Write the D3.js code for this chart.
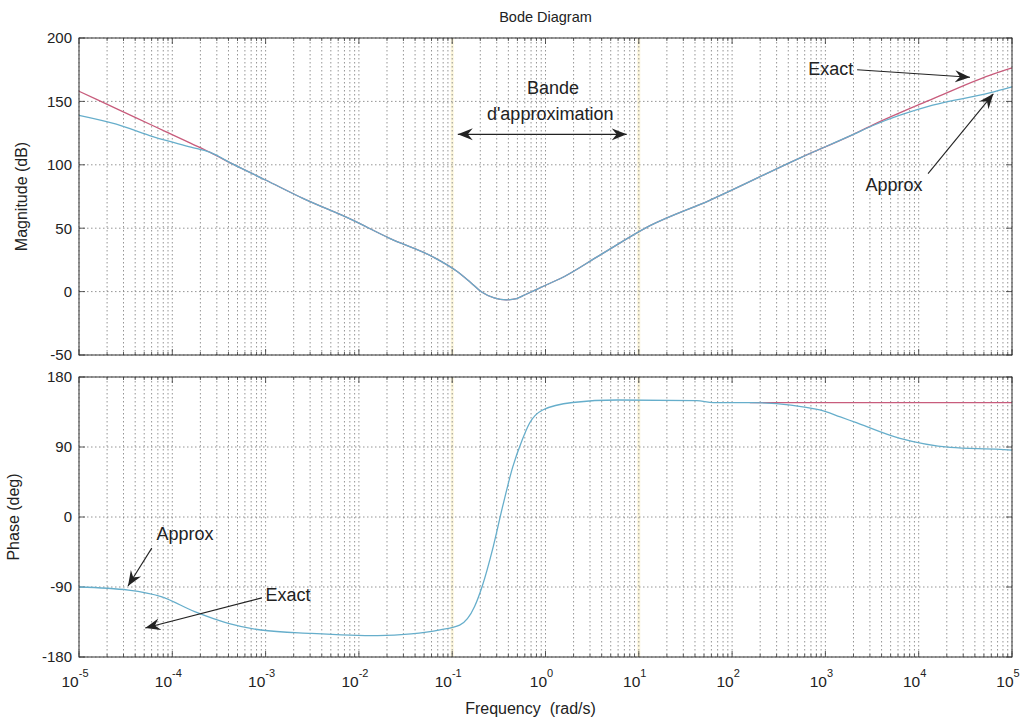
<!DOCTYPE html>
<html>
<head>
<meta charset="utf-8">
<script src="https://cdn.jsdelivr.net/npm/d3@7"></script>
<style>
  body { margin: 0; background: #fff; }
  text { font-family: "Liberation Sans", Arial, sans-serif; fill: #222; }
  .grid line { stroke: #7a7a7a; stroke-width: 0.8; stroke-dasharray: 1.5,2.5; }
  .frame { fill: none; stroke: #333; stroke-width: 1; }
  .tick { stroke: #333; stroke-width: 0.8; }
</style>
</head>
<body>
<svg id="chart" width="1023" height="719"></svg>
<script>
// Frequencies are stored as log10(rad/s).
var magExp      = [-5, -4.6, -4.2, -3.8, -3.6, -3.35, -3.0, -2.6, -2.1, -1.67, -1.21, -0.95, -0.8, -0.68, -0.55, -0.42, -0.31, -0.22, 0, 0.16, 0.58, 1.12, 1.76, 2.73, 3.3, 3.51, 4.15, 4.76, 5];
var approxMagDb = [139, 132, 122, 114, 110, 100.5, 88, 73.5, 57.5, 42, 27.5, 16, 7, -0.5, -5, -6.5, -5.5, -2.5, 5, 10.3, 28.6, 52, 72, 105.5, 124, 131, 147, 156.7, 161.5];
var exactMagDb  = [158, 144.3, 130.6, 116.9, 110, 100.5, 88, 73.5, 57.5, 42, 27.5, 16, 7, -0.5, -5, -6.5, -5.5, -2.5, 5, 10.3, 28.6, 52, 72, 105.5, 124, 131.5, 152, 170.6, 176.4];

var phaseExp       = [-5, -4.47, -4.12, -3.76, -3.4, -3.05, -2.51, -1.8, -1.44, -1.13, -0.92, -0.76, -0.68, -0.56, -0.46, -0.35, -0.25, -0.17, -0.03, 0.29, 0.77, 1.62, 1.8, 2.19, 2.94, 3.16, 3.3, 3.8, 4.34, 4.87, 5];
var approxPhaseDeg = [-90, -94, -102.4, -121.7, -136.7, -145.3, -149.6, -152.6, -150.4, -145, -139, -115, -89.6, -38, 13.3, 64.7, 99, 120.8, 137.6, 147.2, 150.4, 149.6, 147, 147, 137.6, 128.6, 122.6, 101, 89.5, 87, 86];
var exactPhaseExp  = [2.19, 3, 4, 5];
var exactPhaseDeg  = [147, 147, 147, 147];

var magTicks   = [-50, 0, 50, 100, 150, 200];
var phaseTicks = [-180, -90, 0, 90, 180];
var decades    = [-5, -4, -3, -2, -1, 0, 1, 2, 3, 4, 5];
var bandEdges  = [-1, 1];

// Annotations, positioned in data units of their panel.
var magNotes = [
  { text: "Exact", e: 3.3, v: 171, anchor: "end" },
  { text: "Approx", e: 3.735, v: 79, anchor: "middle" },
  { text: "Bande", e: 0.08, v: 156, anchor: "middle" },
  { text: "d'approximation", e: 0.05, v: 135.5, anchor: "middle" }
];
var magArrows = [
  { e1: 3.34, v1: 175, e2: 4.55, v2: 169, both: false },
  { e1: 4.1, v1: 93, e2: 4.8, v2: 156, both: false },
  { e1: -0.94, v1: 124, e2: 0.87, v2: 124, both: true }
];
var phaseNotes = [
  { text: "Approx", e: -3.864, v: -29.6, anchor: "middle" },
  { text: "Exact", e: -3.0, v: -108, anchor: "start" }
];
var phaseArrows = [
  { e1: -4.22, v1: -40, e2: -4.475, v2: -88.7, both: false },
  { e1: -3.04, v1: -104, e2: -4.29, v2: -142.7, both: false }
];

var width = 1023, height = 719;
var left = 79, right = 1012;
var svg = d3.select("#chart");

var x = d3.scaleLog().domain([1e-5, 1e5]).range([left, right]);
var yMag = d3.scaleLinear().domain([-50, 200]).range([355, 38]);
var yPh = d3.scaleLinear().domain([-180, 180]).range([657, 377]);

var defs = svg.append("defs");
defs.append("marker")
  .attr("id", "head")
  .attr("viewBox", "-15 -7 16 14")
  .attr("refX", 0)
  .attr("refY", 0)
  .attr("markerWidth", 16)
  .attr("markerHeight", 14)
  .attr("markerUnits", "userSpaceOnUse")
  .attr("orient", "auto-start-reverse")
  .append("path")
    .attr("d", "M0,0L-15,-6L-10,0L-15,6Z")
    .attr("fill", "#222");

// All grid frequencies: 1..9 times each decade.
var gridFreqs = [];
decades.slice(0, -1).forEach(function(e) {
  d3.range(1, 10).forEach(function(k) { gridFreqs.push(k * Math.pow(10, e)); });
});
gridFreqs.push(1e5);

function drawPanel(y, ticks, series, notes, arrows) {
  var top = y.range()[1], bottom = y.range()[0];
  var g = svg.append("g");

  // Pale yellow lines that mark the approximation band.
  g.selectAll(".band").data(bandEdges).enter().append("line")
    .attr("x1", function(d) { return x(Math.pow(10, d)); })
    .attr("x2", function(d) { return x(Math.pow(10, d)); })
    .attr("y1", top).attr("y2", bottom)
    .attr("stroke", "#fcf6dc").attr("stroke-width", 3);

  var grid = g.append("g").attr("class", "grid");
  grid.selectAll(".v").data(gridFreqs).enter().append("line")
    .attr("x1", function(d) { return x(d); })
    .attr("x2", function(d) { return x(d); })
    .attr("y1", top).attr("y2", bottom);
  grid.selectAll(".h").data(ticks).enter().append("line")
    .attr("x1", left).attr("x2", right)
    .attr("y1", function(d) { return y(d); })
    .attr("y2", function(d) { return y(d); });

  // Inward ticks on all four sides.
  gridFreqs.forEach(function(f) {
    var major = Math.abs(Math.log10(f) - Math.round(Math.log10(f))) < 1e-9;
    var len = major ? 6 : 3;
    g.append("line").attr("class", "tick")
      .attr("x1", x(f)).attr("x2", x(f)).attr("y1", bottom).attr("y2", bottom - len);
    g.append("line").attr("class", "tick")
      .attr("x1", x(f)).attr("x2", x(f)).attr("y1", top).attr("y2", top + len);
  });
  ticks.forEach(function(t) {
    g.append("line").attr("class", "tick")
      .attr("x1", left).attr("x2", left + 6).attr("y1", y(t)).attr("y2", y(t));
    g.append("line").attr("class", "tick")
      .attr("x1", right).attr("x2", right - 6).attr("y1", y(t)).attr("y2", y(t));
  });

  g.selectAll(".ylab").data(ticks).enter().append("text")
    .attr("x", left - 7)
    .attr("y", function(d) { return y(d); })
    .attr("dy", "0.36em")
    .attr("text-anchor", "end")
    .attr("font-size", 15)
    .attr("fill", "#333")
    .text(function(d) { return d; });

  var line = d3.line()
    .x(function(d) { return x(Math.pow(10, d[0])); })
    .y(function(d) { return y(d[1]); })
    .curve(d3.curveMonotoneX);

  series.forEach(function(s) {
    g.append("path")
      .datum(d3.zip(s.exp, s.values))
      .attr("d", line)
      .attr("fill", "none")
      .attr("stroke", s.color)
      .attr("stroke-width", 1.3);
  });

  g.append("rect").attr("class", "frame")
    .attr("x", left).attr("y", top)
    .attr("width", right - left).attr("height", bottom - top);

  g.selectAll(".note").data(notes).enter().append("text")
    .attr("x", function(d) { return x(Math.pow(10, d.e)); })
    .attr("y", function(d) { return y(d.v); })
    .attr("text-anchor", function(d) { return d.anchor; })
    .attr("font-size", 18)
    .attr("fill", "#1a1a1a")
    .text(function(d) { return d.text; });

  g.selectAll(".arrow").data(arrows).enter().append("line")
    .attr("x1", function(d) { return x(Math.pow(10, d.e1)); })
    .attr("y1", function(d) { return y(d.v1); })
    .attr("x2", function(d) { return x(Math.pow(10, d.e2)); })
    .attr("y2", function(d) { return y(d.v2); })
    .attr("stroke", "#222")
    .attr("stroke-width", 1.1)
    .attr("marker-end", "url(#head)")
    .attr("marker-start", function(d) { return d.both ? "url(#head)" : null; });
}

var blue = "#66aecb", red = "#c85c7c";

drawPanel(yMag, magTicks, [
  { exp: magExp, values: exactMagDb, color: red },
  { exp: magExp, values: approxMagDb, color: blue }
], magNotes, magArrows);

drawPanel(yPh, phaseTicks, [
  { exp: exactPhaseExp, values: exactPhaseDeg, color: red },
  { exp: phaseExp, values: approxPhaseDeg, color: blue }
], phaseNotes, phaseArrows);

// Decade labels with superscript exponents.
var xl = svg.append("g").selectAll("text").data(decades).enter().append("text")
  .attr("x", function(d) { return x(Math.pow(10, d)) - 4; })
  .attr("y", 687)
  .attr("text-anchor", "middle")
  .attr("font-size", 15.5)
  .attr("fill", "#333");
xl.append("tspan").text("10");
xl.append("tspan")
  .attr("dy", -10)
  .attr("font-size", 11)
  .text(function(d) { return d; });

svg.append("text")
  .attr("x", (left + right) / 2)
  .attr("y", 22)
  .attr("text-anchor", "middle")
  .attr("font-size", 14.5)
  .text("Bode Diagram");

svg.append("text")
  .attr("x", (left + right) / 2 - 15)
  .attr("y", 714)
  .attr("text-anchor", "middle")
  .attr("font-size", 16)
  .attr("xml:space", "preserve")
  .text("Frequency  (rad/s)");

svg.append("text")
  .attr("transform", "translate(27," + (yMag.range()[0] + yMag.range()[1]) / 2 + ") rotate(-90)")
  .attr("text-anchor", "middle")
  .attr("font-size", 16)
  .text("Magnitude (dB)");

svg.append("text")
  .attr("transform", "translate(19," + (yPh.range()[0] + yPh.range()[1]) / 2 + ") rotate(-90)")
  .attr("text-anchor", "middle")
  .attr("font-size", 16)
  .text("Phase (deg)");
</script>
</body>
</html>
